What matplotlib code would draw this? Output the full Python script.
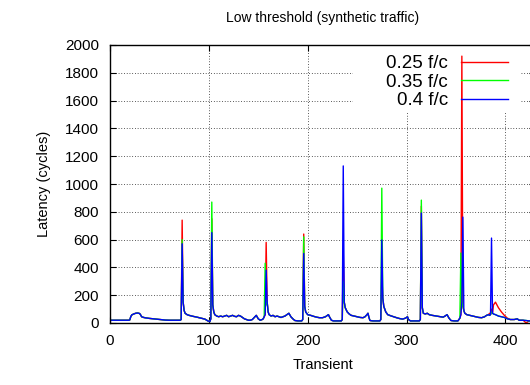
import matplotlib
matplotlib.use("Agg")
import matplotlib.pyplot as plt
from matplotlib.patches import Rectangle

plt.rcParams['font.family'] = ['Liberation Sans', 'DejaVu Sans']
plt.rcParams['font.size'] = 10.5

# shared shape of the traces (transient, latency); spikes differ per series
transient = [0, 10, 19, 20, 21, 22, 24, 26, 28, 30, 31, 32, 34, 36, 40, 44, 48, 52, 56, 60,
             66, 71, 72, 73, 74, 75, 76, 78, 80, 84, 88, 92, 96, 99, 101, 102, 103, 104, 105, 106,
             108, 110, 112, 114, 116, 118, 120, 122, 124, 126, 128, 130, 132, 134, 136, 138, 140, 142, 144, 146,
             148, 150, 152, 154, 155, 156, 157, 158, 159, 160, 161, 163, 165, 167, 169, 171, 173, 175, 177, 179,
             181, 183, 185, 187, 190, 194, 195, 196, 197, 198, 200, 203, 206, 209, 212, 215, 218, 220, 221, 222,
             224, 226, 230, 234, 235, 236, 237, 238, 240, 242, 244, 247, 250, 253, 256, 258, 260, 261, 262, 263,
             266, 270, 273, 274, 275, 276, 277, 279, 281, 284, 287, 290, 293, 296, 299, 301, 302, 304, 308, 313,
             314, 315, 316, 317, 319, 321, 323, 326, 330, 334, 337, 339, 341, 343, 345, 348, 352, 353, 354, 355,
             356, 357, 358, 359, 361, 364, 367, 370, 373, 376, 379, 381, 383, 384, 385, 386, 387, 388, 390, 393,
             396, 399, 402, 405, 409, 412, 414, 418, 421, 424, 428]
base = [20, 20, 20, 22, 45, 58, 65, 70, 72, 68, 58, 45, 40, 37, 33, 30, 27, 24, 21, 20,
        20, 20, 25, 100, 150, 90, 70, 60, 55, 48, 42, 35, 28, 15, 10, 30, 100, 130, 80, 60,
        50, 45, 50, 45, 50, 55, 45, 50, 55, 48, 45, 55, 50, 40, 30, 25, 20, 20, 25, 40,
        55, 30, 20, 25, 30, 45, 60, 130, 150, 80, 60, 50, 55, 45, 50, 45, 40, 45, 50, 60,
        70, 45, 30, 18, 15, 15, 25, 100, 120, 80, 60, 55, 48, 42, 38, 38, 45, 55, 60, 45,
        20, 15, 15, 15, 25, 100, 150, 110, 80, 65, 55, 50, 45, 40, 38, 45, 60, 70, 40, 18,
        15, 15, 15, 25, 100, 180, 120, 80, 60, 52, 45, 38, 32, 28, 35, 45, 25, 15, 15, 15,
        25, 100, 110, 70, 65, 70, 60, 55, 50, 45, 42, 50, 60, 35, 18, 15, 15, 25, 35, 60,
        150, 120, 90, 70, 60, 55, 50, 45, 40, 38, 45, 55, 60, 55, 60, 90, 70, 65, 60, 50,
        45, 40, 30, 25, 25, 30, 20, 20, 18, 15, 15]

red_peaks = {73: 740, 103: 750, 158: 580, 196: 640, 236: 510, 275: 350, 315: 840, 356: 1920,
             384: 70, 386: 100, 388: 130, 390: 150, 393: 110, 396: 80, 399: 55, 402: 35, 421: 0}
green_peaks = {73: 600, 103: 870, 157: 430, 196: 620, 236: 300, 275: 970, 315: 884, 355: 503, 386: 80}
blue_peaks = {73: 570, 103: 650, 158: 380, 196: 500, 236: 1130, 275: 597, 315: 791, 357: 762, 386: 611}

labels = ['0.25 f/c', '0.35 f/c', '0.4 f/c']
colors = ['#ff0000', '#00ff00', '#0000ff']

fig = plt.figure(figsize=(5.30, 3.85), dpi=100)
ax = fig.add_axes([110 / 530, 62 / 385, 425 / 530, 278 / 385])

for peaks, label, color in zip([red_peaks, green_peaks, blue_peaks], labels, colors):
    lat = [peaks.get(t, b) for t, b in zip(transient, base)]
    ax.plot(transient, lat, color=color, lw=1.0, label=label, zorder=2)

ax.set_xlim(0, 430)
ax.set_ylim(0, 2000)
ax.set_xticks(range(0, 401, 100))
ax.set_yticks(range(0, 2001, 200))
ax.tick_params(direction='in', top=True, right=True, length=4, pad=8, labelsize=11)
ax.grid(True, color='0.2', lw=0.7, linestyle=(0, (0.8, 2.0)))
ax.set_axisbelow(True)
for sp in ax.spines.values():
    sp.set_linewidth(1.0)

# white key area under the traces
ax.add_patch(Rectangle(((353 - 110) / 425, (323 - 112) / 278), (520 - 353) / 425, 67 / 278,
                       transform=ax.transAxes, facecolor='white', edgecolor='none', zorder=1))

leg = ax.legend(loc='upper right', bbox_to_anchor=((508 - 110) / 425, (323 - 55) / 278),
                frameon=False, markerfirst=False, fontsize=13.5, handlelength=2.5,
                handletextpad=0.7, labelspacing=0.08, borderpad=0, borderaxespad=0)
leg.set_zorder(3)

ax.set_title('Low threshold (synthetic traffic)', pad=16.5, fontsize=10)
ax.set_xlabel('Transient', labelpad=7)
ax.set_ylabel('Latency (cycles)', labelpad=10)

fig.savefig('out.png', dpi=100)
